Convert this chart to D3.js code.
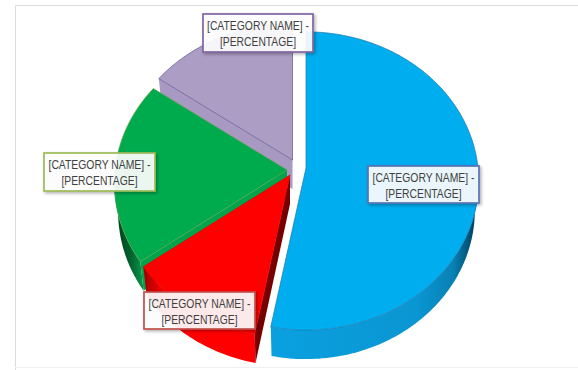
<!DOCTYPE html>
<html>
<head>
<meta charset="utf-8">
<script src="https://cdn.jsdelivr.net/npm/d3@7/dist/d3.min.js"></script>
<style>
  html, body { margin: 0; padding: 0; background: #fff; }
  svg { display: block; }
  text { font-family: "Liberation Sans", Arial, sans-serif; }
</style>
</head>
<body>
<svg id="chart" width="578" height="370"></svg>
<script>
// Slices in clockwise order, starting at twelve o'clock.
const sliceNames = ["Blue", "Red", "Green", "Purple"];
const sliceShares = [53, 12, 19.8, 15.2];
const labelFirstLine = "[CATEGORY NAME] -";
const labelSecondLine = "[PERCENTAGE]";

// Per-slice appearance and placement, keyed by name.
const look = {
  Blue:   { top: "#00adef", edge: "#1b78ad", label: "#5a72b8", apex: [306, 168], box: [368, 166, 111, 37],
            wall: [[0, "#0aa0e0"], [0.7, "#0a96d2"], [0.88, "#0880b4"], [0.97, "#00486a"], [1, "#003c58"]] },
  Red:    { top: "#ff0000", edge: "#e80000", label: "#c0504d", apex: [290, 175], box: [144, 292, 111, 37],
            wall: [[0, "#a00000"], [0.13, "#e40000"], [0.25, "#ff0000"], [1, "#ff0000"]],
            inner: "#760000", innerSide: "start" },
  Green:  { top: "#00ab4e", edge: "#5f9e4c", label: "#9bbb59", apex: [287, 170], box: [44, 153, 111, 38],
            wall: [[0, "#003f1c"], [0.6, "#00602c"], [1, "#0a8a44"]], inner: "#00a54b", innerSide: "start" },
  Purple: { top: "#ac9dc4", edge: "#5f5390", label: "#8064a2", apex: [292.5, 160], box: [203, 14, 110, 38],
            wall: [[0, "#9a8bb4"], [1, "#9a8bb4"]], inner: "#a899c2", innerSide: "start" }
};

const svg = d3.select("#chart");
const depth = 29;
const baseShrink = 0.978;   // the underside recedes slightly under the top face

// The pie plane is tilted towards the viewer, so the near half looks larger.
const planeX = 172, planeY = 148, tilt = 0.087;
function project(apex, angle) {
  const u = Math.sin(angle), v = -Math.cos(angle);
  const w = 1 - tilt * v;
  return [apex[0] + planeX * u / w, apex[1] + planeY * v / w];
}
function dropToBase(apex, p) {
  return [apex[0] + (p[0] - apex[0]) * baseShrink, p[1] + depth];
}

const pie = d3.pie().sort(null).value(d => d.share);
const slices = pie(sliceNames.map((name, i) => ({ name, share: sliceShares[i] })));
const polyline = d3.line();

function arcPoints(apex, a0, a1) {
  const steps = Math.max(2, Math.ceil((a1 - a0) / 0.02));
  return d3.range(steps + 1).map(i => project(apex, a0 + (a1 - a0) * i / steps));
}

const defs = svg.append("defs");
const shadow = defs.append("filter").attr("id", "labelShadow")
  .attr("x", "-15%").attr("y", "-25%").attr("width", "130%").attr("height", "150%");
shadow.append("feDropShadow").attr("dx", 1.5).attr("dy", 1.5)
  .attr("stdDeviation", 1.6).attr("flood-color", "#000").attr("flood-opacity", 0.32);

// Outline of the chart area.
svg.append("path")
  .attr("d", "M15.5,370V5.5H578")
  .attr("fill", "none").attr("stroke", "#dcdcdc").attr("stroke-width", 1);
svg.append("path")
  .attr("d", "M15,367.5H578")
  .attr("fill", "none").attr("stroke", "#f0f0f0").attr("stroke-width", 1);

// Back slices first, so the nearer ones overlap them.
const paintOrder = ["Purple", "Green", "Red", "Blue"];
paintOrder.forEach(name => {
  const s = slices.find(d => d.data.name === name);
  const k = look[name];
  const g = svg.append("g").attr("class", "slice");
  const a0 = s.startAngle, a1 = s.endAngle;

  // Rim of the slice, where it faces the viewer.
  const visible0 = Math.max(a0, Math.PI / 2), visible1 = Math.min(a1, Math.PI * 1.5);
  if (visible1 > visible0) {
    const top = arcPoints(k.apex, visible0, visible1);
    const bottom = top.map(p => dropToBase(k.apex, p)).reverse();
    const xs = d3.extent(top.map(p => p[0]));
    const grad = defs.append("linearGradient").attr("id", "wall" + name)
      .attr("gradientUnits", "userSpaceOnUse")
      .attr("x1", xs[0]).attr("x2", xs[1])
      .attr("y1", 0).attr("y2", 0);
    k.wall.forEach(([o, c]) => grad.append("stop").attr("offset", o).attr("stop-color", c));
    g.append("path")
      .attr("d", polyline(top.concat(bottom)) + "Z")
      .attr("fill", `url(#wall${name})`);
  }

  // Cut face exposed by pulling the slices apart.
  if (k.inner) {
    const rim = project(k.apex, a0);
    const rimBase = dropToBase(k.apex, rim);
    g.append("path")
      .attr("d", polyline([k.apex, rim, rimBase, [k.apex[0], k.apex[1] + depth]]) + "Z")
      .attr("fill", k.inner);
  }

  // Top face.
  g.append("path")
    .attr("d", polyline([k.apex].concat(arcPoints(k.apex, a0, a1))) + "Z")
    .attr("fill", k.top)
    .attr("stroke", k.edge)
    .attr("stroke-width", 0.7)
    .attr("stroke-linejoin", "round");
});

// Data labels.
slices.forEach(s => {
  const k = look[s.data.name];
  const [x, y, w, h] = k.box;
  const g = svg.append("g").attr("class", "label");
  g.append("rect")
    .attr("x", x).attr("y", y).attr("width", w).attr("height", h)
    .attr("fill", "#fff").attr("fill-opacity", 0.9)
    .attr("stroke", k.label).attr("stroke-width", 1.7)
    .attr("filter", "url(#labelShadow)");
  [[labelFirstLine, 102], [labelSecondLine, 76]].forEach(([line, len], i) => {
    g.append("text")
      .attr("x", x + w / 2).attr("y", y + 15.5 + i * 16)
      .attr("text-anchor", "middle")
      .attr("font-size", 13)
      .attr("textLength", len)
      .attr("lengthAdjust", "spacingAndGlyphs")
      .attr("fill", "#3f3f3f")
      .text(line);
  });
});
</script>
</body>
</html>
